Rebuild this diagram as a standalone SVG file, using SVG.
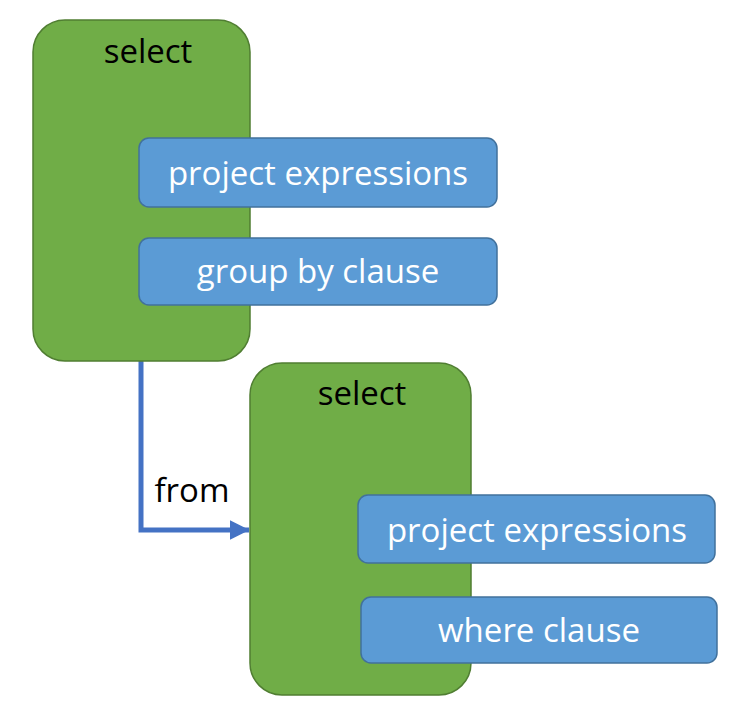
<svg xmlns="http://www.w3.org/2000/svg" width="744" height="709" viewBox="0 0 744 709">
<style>
.g{fill:#70AD47;stroke:#507E32;stroke-width:1.5}
.b{fill:#5B9BD5;stroke:#41719C;stroke-width:1.5}
.t{font-family:"Open Sans","Liberation Sans",sans-serif;font-size:33px;text-anchor:middle}
.w{fill:#fff}
.k{fill:#000}
</style>
<defs>
<marker id="ah" markerWidth="4" markerHeight="4" refX="3.9" refY="2" orient="auto" markerUnits="strokeWidth">
<path d="M0,0 L4,2 L0,4 Z" fill="#4472C4"/>
</marker>
</defs>
<rect width="744" height="709" fill="#fff"/>
<g id="connectors">
<path d="M141,361 V530 H249" fill="none" stroke="#4472C4" stroke-width="5" marker-end="url(#ah)"/>
<text class="t k" x="192" y="502">from</text>
</g>
<g id="select1">
<rect class="g" x="33" y="20" width="217" height="341" rx="32"/>
<text class="t k" x="148" y="63">select</text>
</g>
<g id="project1">
<rect class="b" x="139" y="138" width="358" height="69" rx="10"/>
<text class="t w" x="318" y="185">project expressions</text>
</g>
<g id="groupby">
<rect class="b" x="139" y="238" width="358" height="67" rx="10"/>
<text class="t w" x="318" y="283">group by clause</text>
</g>
<g id="select2">
<rect class="g" x="250" y="363" width="221" height="332" rx="32"/>
<text class="t k" x="362" y="405">select</text>
</g>
<g id="project2">
<rect class="b" x="358" y="495" width="357" height="68" rx="10"/>
<text class="t w" x="537" y="542">project expressions</text>
</g>
<g id="where">
<rect class="b" x="361" y="597" width="356" height="66" rx="10"/>
<text class="t w" x="539" y="642">where clause</text>
</g>
</svg>
